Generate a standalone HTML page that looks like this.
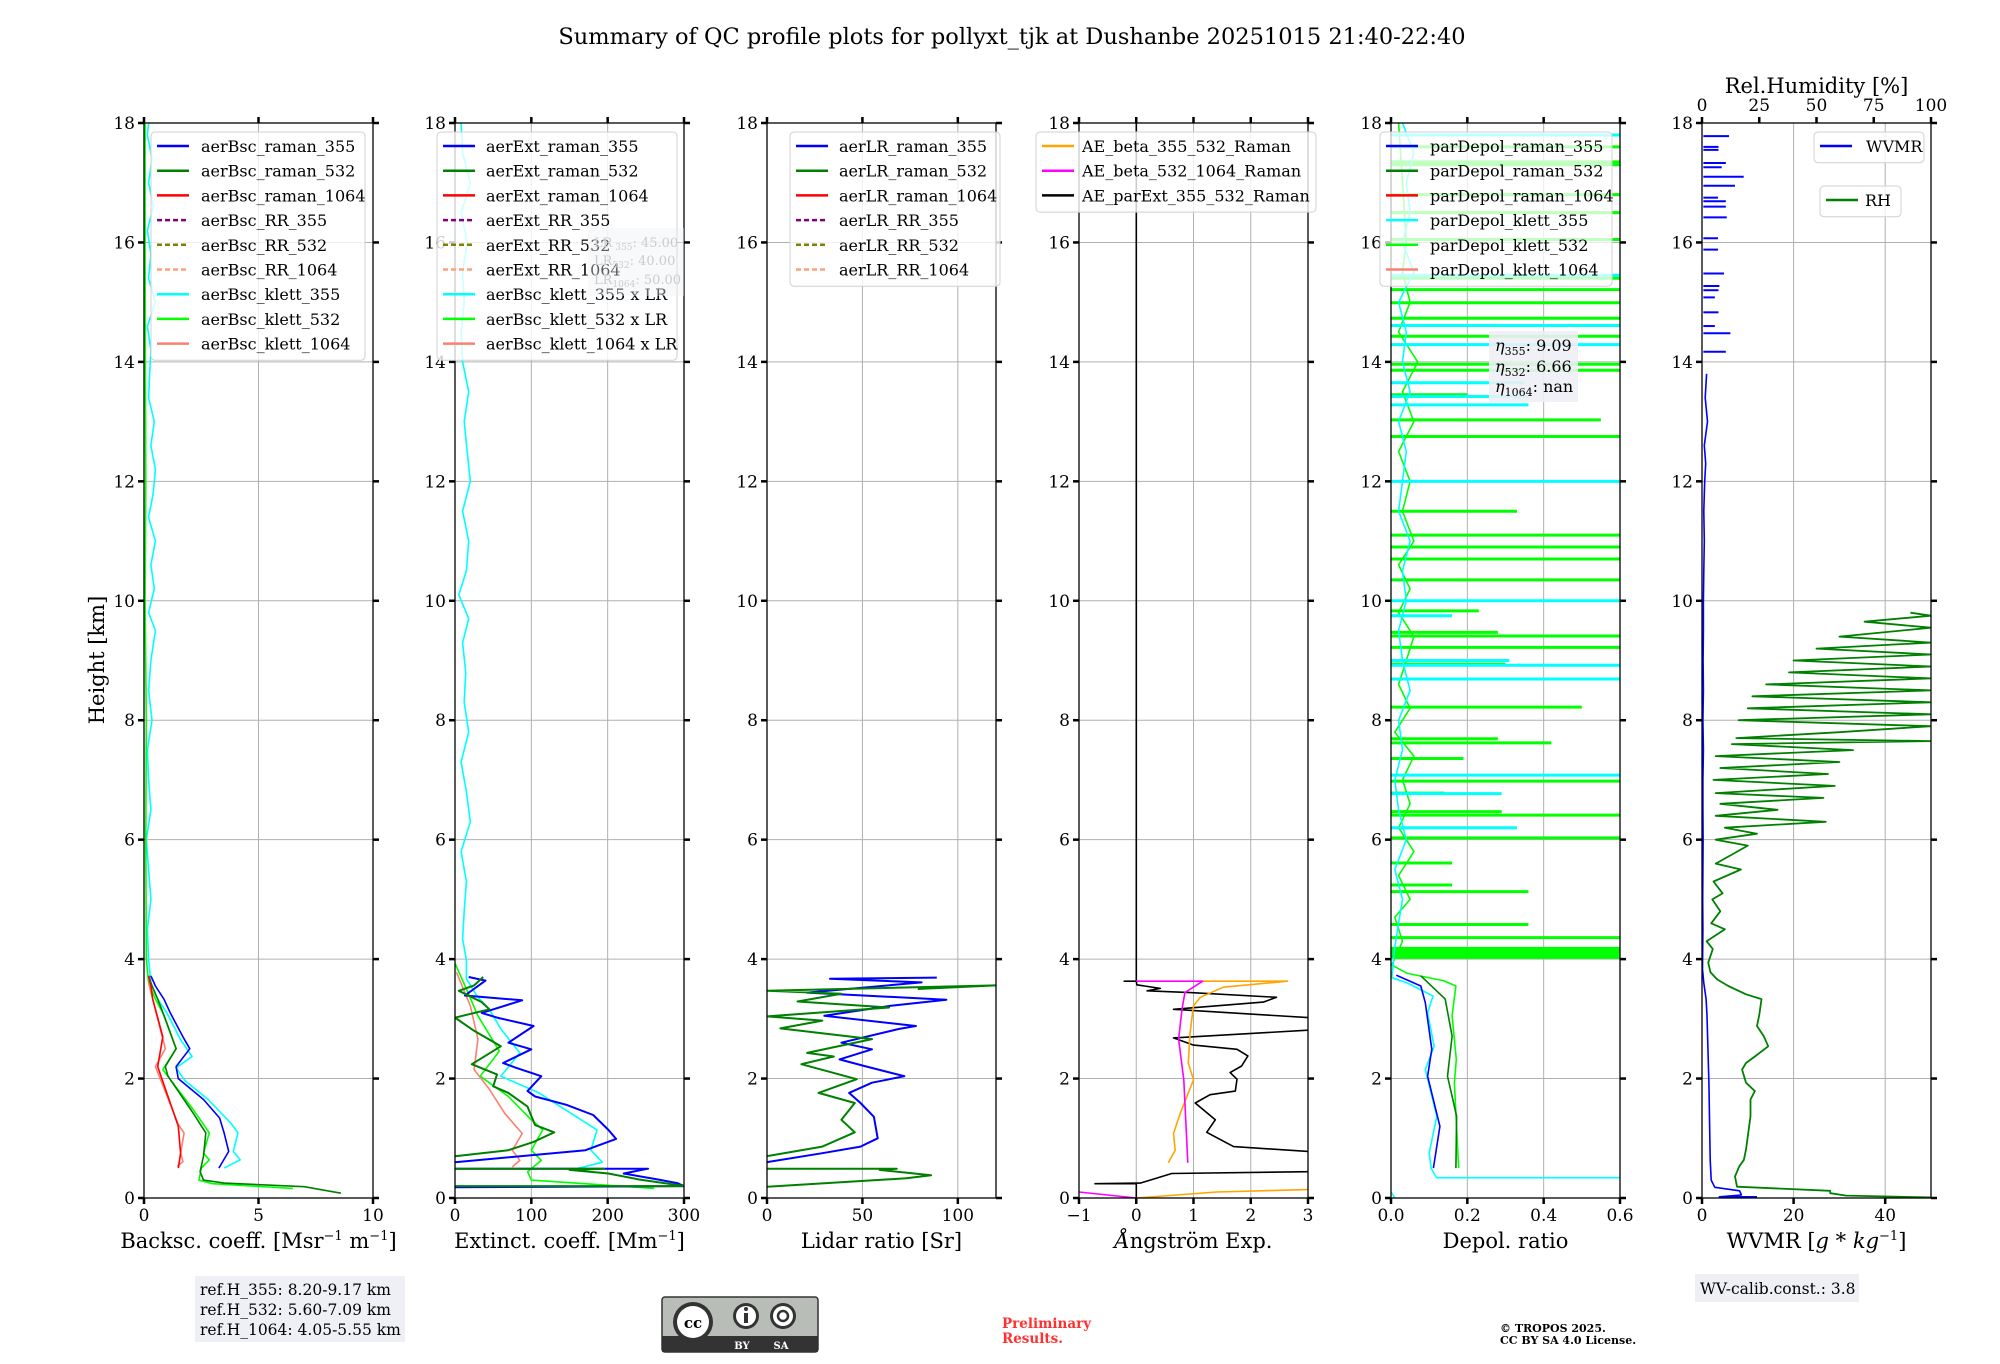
<!DOCTYPE html>
<html><head><meta charset="utf-8">
<style>
html,body{margin:0;padding:0;background:#fff;}
body{width:2000px;height:1360px;overflow:hidden;position:relative;font-family:"DejaVu Serif","Liberation Serif",serif;}
svg text{font-family:"DejaVu Serif","Liberation Serif",serif;}
</style></head>
<body>
<svg id="fig" width="2000" height="1360" viewBox="0 0 2000 1360" xmlns="http://www.w3.org/2000/svg">
<text x="1012" y="44" font-size="22.5" text-anchor="middle">Summary of QC profile plots for pollyxt_tjk at Dushanbe 20251015 21:40-22:40</text>
<text transform="translate(104,660) rotate(-90)" font-size="21" text-anchor="middle">Height [km]</text>
<g id="panels"></g>
<g>
<rect x="195" y="1276" width="210" height="66" fill="#eef0f5"/>
<text x="200" y="1295" font-size="15.5">ref.H_355: 8.20-9.17 km</text>
<text x="200" y="1315" font-size="15.5">ref.H_532: 5.60-7.09 km</text>
<text x="200" y="1335" font-size="15.5">ref.H_1064: 4.05-5.55 km</text>
</g>
<g>
<rect x="662" y="1297" width="156" height="55" rx="3" fill="#b8bdb8" stroke="#333" stroke-width="1.5"/>
<rect x="662" y="1336" width="156" height="16" fill="#333"/>
<circle cx="693" cy="1322" r="20" fill="#333"/><circle cx="693" cy="1322" r="16" fill="#fff"/>
<text x="693" y="1328" font-size="15" font-weight="bold" text-anchor="middle" font-family="Liberation Sans,sans-serif">cc</text>
<circle cx="746" cy="1316" r="13" fill="#333"/><circle cx="746" cy="1316" r="10" fill="#fff"/>
<rect x="744" y="1313" width="4" height="10" fill="#333"/><circle cx="746" cy="1309" r="2" fill="#333"/>
<circle cx="783" cy="1316" r="13" fill="#333"/><circle cx="783" cy="1316" r="10" fill="#fff"/>
<circle cx="783" cy="1316" r="5" fill="none" stroke="#333" stroke-width="2.5"/>
<text x="742" y="1349" font-size="10" fill="#fff" font-weight="bold" text-anchor="middle" font-family="Liberation Sans,sans-serif">BY</text>
<text x="781" y="1349" font-size="10" fill="#fff" font-weight="bold" text-anchor="middle" font-family="Liberation Sans,sans-serif">SA</text>
</g>
<text x="1002" y="1328" font-size="13.5" font-weight="bold" fill="#ff3030">Preliminary</text>
<text x="1002" y="1343" font-size="13.5" font-weight="bold" fill="#ff3030">Results.</text>
<text x="1500" y="1332" font-size="11" font-weight="bold">© TROPOS 2025.</text>
<text x="1500" y="1344" font-size="11" font-weight="bold">CC BY SA 4.0 License.</text>
<g>
<rect x="1695" y="1274" width="164" height="28" fill="#eef0f5"/>
<text x="1700" y="1294" font-size="15.5">WV-calib.const.: 3.8</text>
</g>
</svg>
<script>
// ---------- Panel 1: backscatter ----------
const bscTicks=[0,5,10];
const bsc355H=[0.5,0.78,1.09,1.34,1.65,2.0,2.2,2.5,2.7,3.1,3.33,3.55,3.72];
const bsc355V=[3.27,3.7,3.5,3.3,2.6,1.5,1.4,2.0,1.7,1.15,0.87,0.5,0.3];
const bsc532H=[0.08,0.19,0.25,0.3,0.44,0.7,1.09,1.42,2.04,2.2,2.5,3.0,3.33,3.55,3.72];
const bsc532V=[8.6,7.0,3.5,2.6,2.45,2.6,2.7,2.15,1.05,0.93,1.4,0.93,0.6,0.35,0.2];
const bsc1064H=[0.5,0.75,1.2,1.7,2.2,2.7,3.33,3.55,3.72];
const bsc1064V=[1.5,1.6,1.5,1.05,0.6,0.82,0.38,0.3,0.2];
const kl355H=[0.5,0.64,0.78,1.09,1.25,1.65,1.96,2.18,2.37,2.65,3.1,3.33,3.6,4.0,4.5,5,5.5,6,6.5,7,7.5,8,8.5,9,9.5,9.8,10.2,10.6,11,11.4,11.8,12.2,12.6,13,13.4,13.8,14.2,14.6,15,15.4,15.8,16.2,16.6,17,17.4,17.8,18];
const kl355V=[3.5,4.2,3.9,4.1,3.8,2.8,1.8,1.4,2.1,1.6,1.0,0.6,0.3,0.2,0.15,0.3,0.2,0.1,0.3,0.2,0.15,0.35,0.2,0.3,0.5,0.2,0.45,0.3,0.5,0.2,0.4,0.5,0.3,0.45,0.2,0.25,0.3,0.15,0.5,0.2,0.3,0.15,0.4,0.2,0.35,0.15,0.2];
const kl532H=[0.16,0.24,0.3,0.5,0.64,0.75,1.09,1.48,2.15,2.5,3.1,3.33,3.6,4,6,8,10,12,14,16,18];
const kl532V=[6.5,3.0,2.4,2.5,2.85,2.6,2.85,2.15,0.82,1.4,0.82,0.5,0.2,0.1,0.08,0.1,0.05,0.08,0.06,0.05,0.05];
const kl1064H=[0.53,0.61,0.75,1.09,1.23,2.2,2.5,3.33,3.6];
const kl1064V=[1.45,1.7,1.6,1.75,1.5,0.5,0.93,0.38,0.2];
// ---------- Panel 2: extinction ----------
const extTicks=[0,100,200,300];
const ext355H=[0.18,0.2,0.25,0.31,0.41,0.49,0.49,null,0.6,0.8,0.99,1.14,1.39,1.56,1.7,1.79,2.04,2.18,2.26,2.49,2.6,2.88,3.02,3.1,3.31,3.39,3.64,3.7];
const ext355V=[0,300,291,266,221,253,0,null,0,171,211,201,181,146,105,95,113,80,63,100,70,103,55,35,88,13,40,18];
const ext532H=[0.2,0.2,0.21,0.31,0.41,0.47,0.49,0.49,null,0.7,0.8,0.94,1.1,1.22,1.53,1.76,1.87,2.07,2.24,2.54,2.8,3.02,3.16,3.28,3.47,3.56,3.7];
const ext532V=[0,300,296,241,201,150,195,0,null,0,70,103,130,105,95,70,50,55,22,60,25,0,45,35,5,25,37];
const extKl355H=[0.49,0.6,0.8,1.14,1.76,2.04,2.43,2.83,3.16,3.36,3.67,3.98,4.34,4.8,5.3,5.8,6.3,6.8,7.3,7.8,8.3,8.8,9.3,9.7,10.1,10.5,11,11.5,12,12.5,13,13.5,14,14.5,15,15.5,16,16.5,17,17.5,18];
const extKl355V=[160,193,178,186,110,60,85,60,45,30,15,15,10,12,15,8,20,15,8,18,12,14,10,18,5,15,18,10,20,16,12,18,10,8,12,10,16,8,20,10,8];
const extKl532H=[0.16,0.3,0.44,0.63,0.8,1.14,1.31,1.7,2.04,2.46,3.05,3.5,3.93];
const extKl532V=[261,100,95,113,100,115,100,70,33,58,30,15,0];
const extKl1064H=[0.52,0.63,0.8,1.08,1.42,1.82,2.15,2.66,3.22,3.78];
const extKl1064V=[75,85,75,88,65,45,25,30,20,2];
// ---------- Panel 3: lidar ratio ----------
const lrTicks=[0,50,100];
const lr355H=[0.6,0.75,0.86,1.0,1.36,1.59,1.76,1.93,2.04,2.21,2.32,2.49,2.6,2.83,2.88,3.05,3.22,3.32,3.44,3.61,3.67,3.69];
const lr355V=[0,29,49,58,56,49,43,55,72,51,38,55,39,69,78,30,65,94,21,81,33,89];
const lr532H=[0.19,0.33,0.38,0.47,0.49,0.49,null,0.7,0.86,1.1,1.31,1.59,1.76,1.99,2.24,2.37,2.43,2.66,2.84,2.97,3.04,3.19,3.29,3.42,3.47,3.56,3.5];
const lr532V=[0,73,86,59,68,0,null,0,29,46,39,46,27,47,18,35,21,55,7,29,0,64,16,39,0,120,79];
// ---------- Panel 4: Angstrom ----------
const aeTicks=[-1,0,1,2,3];
const aeExtH=[0,0.24,0.24,0.25,0.41,0.44,null,0.78,0.86,1.1,1.31,1.59,1.73,1.79,1.99,2.1,2.21,2.38,2.49,2.56,2.68,2.81,null,3.02,3.16,3.28,3.36,3.44,3.47,3.51,3.57,3.63,3.63,3.63,18];
const aeExtV=[0,0,-0.72,0.07,0.62,3,null,3,1.7,1.23,1.38,1.03,1.29,1.73,1.76,1.64,1.84,1.95,1.76,1.0,0.65,3,null,3,0.65,2.22,2.45,0.94,0.19,0.42,0.01,0,-0.21,0,0];
const ae355H=[0,0.1,0.14,null,0.59,0.8,1.08,1.42,1.98,2.26,2.77,3.22,3.36,3.53,3.63,3.63];
const ae355V=[0,1.4,3,null,0.56,0.68,0.65,0.77,1.0,0.91,0.94,1.0,1.12,1.52,2.64,1.12];
const ae532H=[0.1,0,null,0.59,1.98,2.66,3.16,3.44,3.63,3.63];
const ae532V=[-1,0,null,0.9,0.83,0.74,0.8,0.85,1.16,0];
// ---------- Panel 5: depol ----------
const depTicks=[0,0.2,0.4,0.6];
const dep355H=[0.5,1.2,2.04,2.49,3.27,3.55,3.73];
const dep355V=[0.111,0.128,0.096,0.107,0.09,0.078,0.014];
const dep532H=[0.5,1.37,2.04,2.71,3.33,3.72];
const dep532V=[0.17,0.172,0.148,0.16,0.142,0.078];
const depKl355H=[0.0,0.05,0.1,null,0.34,0.34,0.41,0.5,0.75,1.37,2.15,2.54,3.1,3.38,3.6,3.69,4.2,4.6,5,5.5,6,6.5,7,7.5,8,8.5,9,9.5,10,10.5,11,11.5,12,12.5,13,13.5,14,14.5,15,15.5,16,16.5,17,17.5,18];
const depKl355V=[0.01,0.005,0,null,0.6,0.12,0.113,0.105,0.1,0.12,0.09,0.113,0.096,0.11,0.043,0.002,0.01,0.02,0.03,0.01,0.04,0.02,0.01,0.03,0.02,0.05,0.03,0.02,0.04,0.03,0.05,0.02,0.03,0.04,0.02,0.05,0.03,0.04,0.02,0.06,0.03,0.05,0.04,0.06,0.03];
const depKl532H=[0.5,1.93,2.32,3.05,3.55,3.64,3.76,3.9,4.3,4.7,5,5.4,5.8,6.2,6.6,7,7.4,7.8,8.2,8.6,9,9.4,9.8,10.2,10.6,11,11.5,12,12.5,13,13.5,14,14.5,15,15.5,16,17,18];
const depKl532V=[0.177,0.166,0.171,0.16,0.17,0.137,0.043,0.002,0.03,0.01,0.05,0.02,0.06,0.02,0.05,0.03,0.06,0.01,0.05,0.02,0.04,0.06,0.02,0.05,0.02,0.06,0.03,0.05,0.02,0.06,0.03,0.07,0.02,0.05,0.03,0.04,0.03,0.02];
const spikeLimeH=[4.03,4.06,4.09,4.12,4.15,4.18,4.36,4.58,5.13,5.24,5.61,6.03,6.41,6.47,6.78,6.98,7.36,7.62,7.69,8.22,8.94,9.22,9.41,9.47,9.83,10.35,10.7,10.9,11.1,11.5,12.75,13.03,13.45,13.86,13.96,14.43,14.73,14.99,15.21,15.4,16.05,16.5,16.8,17.3,17.35,17.6];
const spikeLimeV=[0.6,0.6,0.6,0.6,0.6,0.6,0.6,0.36,0.36,0.16,0.16,0.6,0.6,0.29,0.14,0.6,0.19,0.42,0.28,0.5,0.3,0.6,0.6,0.28,0.23,0.6,0.6,0.6,0.6,0.33,0.6,0.55,0.2,0.6,0.6,0.6,0.6,0.6,0.6,0.6,0.6,0.6,0.6,0.6,0.6,0.6];
const spikeCyanH=[6.2,6.77,7.08,8.69,8.92,9.0,9.75,10.0,12.0,13.28,13.42,13.65,14.29,14.61,15.45,17.8];
const spikeCyanV=[0.33,0.29,0.6,0.6,0.6,0.31,0.16,0.6,0.6,0.36,0.36,0.35,0.6,0.6,0.6,0.6];
// ---------- Panel 6: WVMR / RH ----------
const wvTicks=[0,20,40];
const rhTicks=[0,25,50,75,100];
const wvmrH=[0.02,0.02,0.05,0.12,0.18,0.3,0.64,1.93,3.05,3.33,3.6,3.83,4.5,5,5.5,6,6.5,7,7.5,8,8.5,9,9.5,10,10.5,11,11.5,12,12.3,12.6,13,13.4,13.8];
const wvmrV=[12,3.8,8.6,8.2,2.8,2.0,1.8,1.5,1.1,0.9,0.4,0.1,0.2,0.15,0.2,0.25,0.2,0.2,0.3,0.2,0.3,0.25,0.3,0.3,0.4,0.5,0.4,0.6,0.8,0.5,1.2,0.7,1.0];
const wvDashH=[14.17,14.48,14.6,14.83,15.08,15.2,15.27,15.48,15.88,16.07,16.42,16.6,16.69,16.75,16.95,17.1,17.26,17.33,17.55,17.6,17.78];
const wvDashV=[5.2,6.2,2.8,3.6,2.8,3.6,3.8,4.8,3.5,3.5,5.4,5.2,5.2,3.5,7.2,9.1,4.3,5.2,3.6,3.6,5.9];
const rhH=[0.01,0.04,0.08,0.12,0.19,0.36,0.53,0.64,0.81,1.37,1.65,1.79,1.93,2.15,2.26,2.37,2.54,2.71,2.88,3.07,3.33,3.41,3.55,3.66,3.78,3.94,4.17,4.3,4.5,4.6,4.8,5.0,5.1,5.3,5.5,5.6,5.75,5.9,6.0,6.1,6.2,6.3,6.4,6.5,6.6,6.7,6.78,6.9,7.0,7.1,7.2,7.3,7.4,7.5,7.6,7.65,7.7,7.8,7.9,8.0,8.1,8.2,8.3,8.4,8.5,8.6,8.7,8.8,8.9,9.0,9.1,9.2,9.3,9.4,9.55,9.65,9.75,9.8];
const rhV=[100,63,56,56,15.3,14.4,16.3,18.3,19.2,21.2,21.2,23.1,19.2,17.5,19.2,23.1,28.9,27,24,25,26,19.2,11.5,6.6,3.7,2.7,4.7,2,10,4,8,4.5,9,5,17,6,13,20,6,24,10,54,6,33,8,53,6,58,5,55,8,60,6,66,13,100,15,60,100,16,100,20,100,22,100,28,100,38,100,40,100,50,100,60,100,71,100,91];

const TOP=123, BOT=1198, W=229;
const LEFTS=[144,455,767,1079,1391,1702];
const NS='http://www.w3.org/2000/svg';
const root=document.getElementById('panels');
function mk(tag,attrs,parent){const e=document.createElementNS(NS,tag);for(const k in attrs)e.setAttribute(k,attrs[k]);(parent||root).appendChild(e);return e;}
function yOf(h){return BOT-h/18*(BOT-TOP);}
function xFn(L,a,b){return v=>L+(v-a)/(b-a)*W;}
function drawLine(g,X,H,V,color,width,name,dash){
  let d='',pen=false;
  for(let i=0;i<H.length;i++){
    if(H[i]===null){pen=false;continue;}
    d+=(pen?'L':'M')+X(V[i]).toFixed(1)+','+yOf(H[i]).toFixed(1);pen=true;
  }
  const p=mk('path',{d:d,fill:'none',stroke:color,'stroke-width':width,'stroke-linejoin':'round'},g);
  if(dash)p.setAttribute('stroke-dasharray',dash);
  
  
  return p;
}
function drawSpikes(g,X,H,V,color,name){
  for(let i=0;i<H.length;i++){
    const l=mk('line',{x1:X(0),x2:X(V[i]),y1:yOf(H[i]),y2:yOf(H[i]),stroke:color,'stroke-width':3},g);
    
    
  }
}
function axes(idx,a,b,ticks,fmt,xlabel){
  const L=LEFTS[idx];const X=xFn(L,a,b);
  const g=mk('g',{});
  
  
  const cp=mk('clipPath',{id:'cp'+idx},g);mk('rect',{x:L,y:TOP,width:W,height:BOT-TOP},cp);
  for(const t of ticks){mk('line',{x1:X(t),x2:X(t),y1:TOP,y2:BOT,stroke:'#b0b0b0','stroke-width':1},g);}
  for(let h=0;h<=18;h+=2){mk('line',{x1:L,x2:L+W,y1:yOf(h),y2:yOf(h),stroke:'#b0b0b0','stroke-width':1},g);}
  const data=mk('g',{'clip-path':'url(#cp'+idx+')'},g);
  
  
  const fr=mk('g',{},g);
  
  
  mk('rect',{x:L,y:TOP,width:W,height:BOT-TOP,fill:'none',stroke:'#000','stroke-width':1.3},fr);
  for(let h=0;h<=18;h+=2){
    mk('line',{x1:L-6,x2:L,y1:yOf(h),y2:yOf(h),stroke:'#000','stroke-width':2.5},fr);
    mk('line',{x1:L+W,x2:L+W+6,y1:yOf(h),y2:yOf(h),stroke:'#000','stroke-width':2.5},fr);
    const t=mk('text',{x:L-9,y:yOf(h)+6,'font-size':17,'text-anchor':'end'},fr);t.textContent=h;
    
    
  }
  for(const v of ticks){
    mk('line',{x1:X(v),x2:X(v),y1:BOT,y2:BOT+6,stroke:'#000','stroke-width':2.5},fr);
    if(idx!==5) mk('line',{x1:X(v),x2:X(v),y1:TOP-6,y2:TOP,stroke:'#000','stroke-width':2.5},fr);
    const t=mk('text',{x:X(v),y:BOT+23,'font-size':17,'text-anchor':'middle'},fr);t.textContent=fmt(v);
    
    
  }
  const xl=mk('text',{x:L+W/2,y:BOT+50,'font-size':21,'text-anchor':'middle'},fr);xl.innerHTML=xlabel;
  
  
  return {X:X,g:data,L:L,fr:fr};
}
function legend(x,y,w,rows,items,tx,name,opacity){
  const g=mk('g',{});
  
  
  mk('rect',{x:x,y:y,width:w,height:rows*24.7+6,rx:4,fill:'#fff','fill-opacity':opacity,stroke:'#d0d0d0','stroke-width':1},g);
  items.forEach((it,i)=>{
    const cy=y+14+i*24.7;
    const ln=mk('line',{x1:x+6,x2:x+38,y1:cy,y2:cy,stroke:it[1],'stroke-width':2.5},g);
    if(it[2])ln.setAttribute('stroke-dasharray','5,3');
    const t=mk('text',{x:x+tx,y:cy+6,'font-size':16},g);t.textContent=it[0];
    
    
  });
}
const f0=v=>String(v), f1=v=>v.toFixed(1);
const B='#0000ff',G='#008000',R='#ff0000',C='#00ffff',LM='#00ff00',S='#fa8072',P='#800080',O='#808000',LS='#ffa07a';
// panel 1
let a=axes(0,0,10,bscTicks,f0,'Backsc. coeff. [Msr<tspan dy="-8" font-size="13">−1</tspan><tspan dy="8"> m</tspan><tspan dy="-8" font-size="13">−1</tspan><tspan dy="8">]</tspan>');
drawLine(a.g,a.X,kl355H,kl355V,C,1.6,'aerBsc-klett-355-line');
drawLine(a.g,a.X,kl532H,kl532V,LM,1.6,'aerBsc-klett-532-line');
drawLine(a.g,a.X,kl1064H,kl1064V,S,1.6,'aerBsc-klett-1064-line');
drawLine(a.g,a.X,bsc355H,bsc355V,B,1.6,'aerBsc-raman-355-line');
drawLine(a.g,a.X,bsc532H,bsc532V,G,1.6,'aerBsc-raman-532-line');
drawLine(a.g,a.X,bsc1064H,bsc1064V,R,1.6,'aerBsc-raman-1064-line');
legend(151,132,214,9,[['aerBsc_raman_355',B],['aerBsc_raman_532',G],['aerBsc_raman_1064',R],['aerBsc_RR_355',P,1],['aerBsc_RR_532',O,1],['aerBsc_RR_1064',LS,1],['aerBsc_klett_355',C],['aerBsc_klett_532',LM],['aerBsc_klett_1064',S]],50,'legend-backscatter',0.8);
// panel 2
a=axes(1,0,300,extTicks,f0,'Extinct. coeff. [Mm<tspan dy="-8" font-size="13">−1</tspan><tspan dy="8">]</tspan>');
drawLine(a.g,a.X,extKl355H,extKl355V,C,1.6,'aerBsc-klett-355-x-LR-line');
drawLine(a.g,a.X,extKl532H,extKl532V,LM,1.6,'aerBsc-klett-532-x-LR-line');
drawLine(a.g,a.X,extKl1064H,extKl1064V,S,1.6,'aerBsc-klett-1064-x-LR-line');
drawLine(a.g,a.X,ext355H,ext355V,B,2,'aerExt-raman-355-line');
drawLine(a.g,a.X,ext532H,ext532V,G,2,'aerExt-raman-532-line');
legend(437,132,240,9,[['aerExt_raman_355',B],['aerExt_raman_532',G],['aerExt_raman_1064',R],['aerExt_RR_355',P,1],['aerExt_RR_532',O,1],['aerExt_RR_1064',LS,1],['aerBsc_klett_355 x LR',C],['aerBsc_klett_532 x LR',LM],['aerBsc_klett_1064 x LR',S]],49,'legend-extinction',0.8);
{const g=mk('g',{});
mk('rect',{x:588,y:228,width:96,height:68,fill:'#eef0f5','fill-opacity':0.4},g);
[['LR',' 355',': 45.00',247],['LR','532',': 40.00',265],['LR','1064',': 50.00',284]].forEach(r=>{const t=mk('text',{x:594,y:r[3],'font-size':13,fill:'#cccccc'},g);t.innerHTML=r[0]+'<tspan font-size="9" dy="3">'+r[1]+'</tspan><tspan dy="-3">'+r[2]+'</tspan>';});}
// panel 3
a=axes(2,0,120,lrTicks,f0,'Lidar ratio [Sr]');
drawLine(a.g,a.X,lr355H,lr355V,B,2,'aerLR-raman-355-line');
drawLine(a.g,a.X,lr532H,lr532V,G,2,'aerLR-raman-532-line');
legend(790,132,210,6,[['aerLR_raman_355',B],['aerLR_raman_532',G],['aerLR_raman_1064',R],['aerLR_RR_355',P,1],['aerLR_RR_532',O,1],['aerLR_RR_1064',LS,1]],49,'legend-lidar-ratio',0.8);
// panel 4
a=axes(3,-1,3,aeTicks,v=>v<0?'−'+(-v):String(v),'<tspan font-style="italic">Å</tspan>ngström Exp.');
drawLine(a.g,a.X,aeExtH,aeExtV,'#000',1.6,'AE-parExt-355-532-line');
drawLine(a.g,a.X,ae355H,ae355V,'#ffa500',1.6,'AE-beta-355-532-line');
drawLine(a.g,a.X,ae532H,ae532V,'#ff00ff',1.6,'AE-beta-532-1064-line');
legend(1036,132,280,3,[['AE_beta_355_532_Raman','#ffa500'],['AE_beta_532_1064_Raman','#ff00ff'],['AE_parExt_355_532_Raman','#000']],46,'legend-angstrom',0.8);
// panel 5
a=axes(4,0,0.6,depTicks,f1,'Depol. ratio');
drawLine(a.g,a.X,depKl532H,depKl532V,LM,1.6,'parDepol-klett-532-line');
drawSpikes(a.g,a.X,spikeLimeH,spikeLimeV,LM,'parDepol-klett-532-spike');
drawLine(a.g,a.X,depKl355H,depKl355V,C,1.6,'parDepol-klett-355-line');
drawSpikes(a.g,a.X,spikeCyanH,spikeCyanV,C,'parDepol-klett-355-spike');
drawLine(a.g,a.X,dep355H,dep355V,B,1.6,'parDepol-raman-355-line');
drawLine(a.g,a.X,dep532H,dep532V,G,1.6,'parDepol-raman-532-line');
legend(1380,132,232,6,[['parDepol_raman_355',B],['parDepol_raman_532',G],['parDepol_raman_1064',R],['parDepol_klett_355',C],['parDepol_klett_532',LM],['parDepol_klett_1064',S]],50,'legend-depol',0.75);
{const g=mk('g',{});
mk('rect',{x:1489,y:331,width:89,height:71,fill:'#eef0f5','fill-opacity':0.9},g);
[['355',': 9.09',351],['532',': 6.66',372],['1064',': nan',392]].forEach(r=>{const t=mk('text',{x:1495,y:r[2],'font-size':16},g);t.innerHTML='<tspan font-style="italic">η</tspan><tspan font-size="11" dy="4">'+r[0]+'</tspan><tspan dy="-4">'+r[1]+'</tspan>';});}
// panel 6
a=axes(5,0,50,wvTicks,f0,'WVMR [<tspan font-style="italic">g</tspan> * <tspan font-style="italic">kg</tspan><tspan dy="-8" font-size="13">−1</tspan><tspan dy="8">]</tspan>');
const XR=xFn(LEFTS[5],0,100);
drawLine(a.g,XR,rhH,rhV,G,1.8,'RH-line');
drawLine(a.g,a.X,wvmrH,wvmrV,B,1.6,'WVMR-line');
for(let i=0;i<wvDashH.length;i++){
  const l=mk('line',{x1:a.X(0.3),x2:a.X(wvDashV[i]),y1:yOf(wvDashH[i]),y2:yOf(wvDashH[i]),stroke:B,'stroke-width':2},a.g);
  
  
}
for(const v of rhTicks){
  mk('line',{x1:XR(v),x2:XR(v),y1:TOP-6,y2:TOP,stroke:'#000','stroke-width':2.5},a.fr);
  const t=mk('text',{x:XR(v),y:TOP-12,'font-size':17,'text-anchor':'middle'},a.fr);t.textContent=v;
  
  
}
{const t=mk('text',{x:LEFTS[5]+W/2,y:93,'font-size':21,'text-anchor':'middle'},a.fr);t.textContent='Rel.Humidity [%]';

}
legend(1814,132,110,1,[['WVMR',B]],52,'legend-wvmr',0.8);
legend(1820,186,81,1,[['RH',G]],45,'legend-rh',0.8);
</script>
</body></html>
